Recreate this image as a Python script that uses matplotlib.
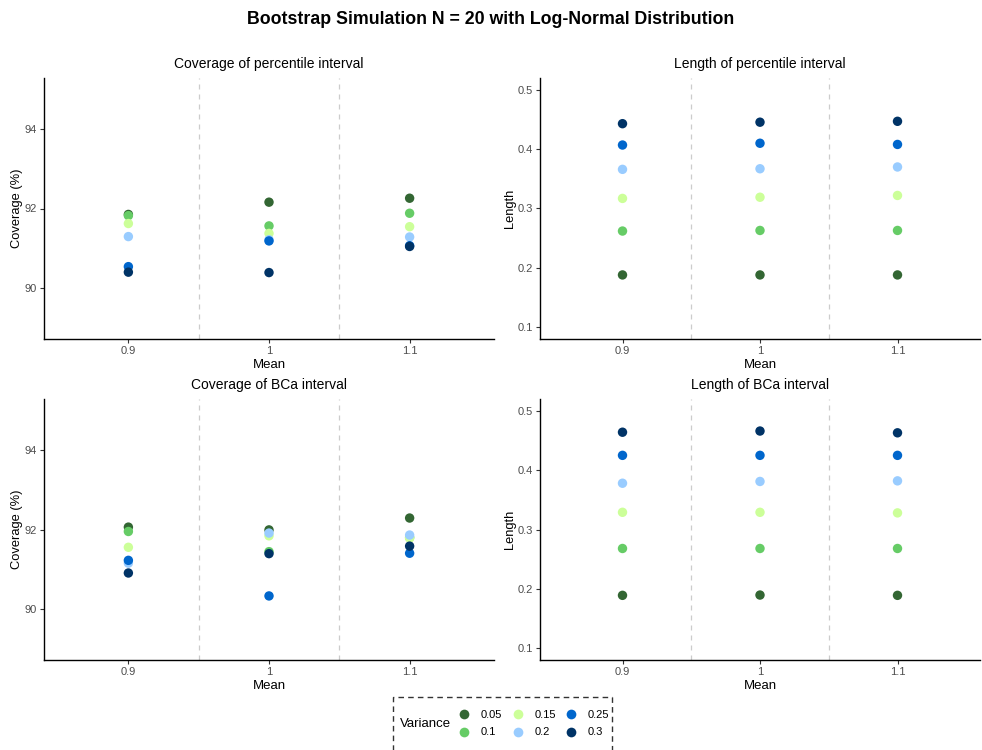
import numpy as np
import matplotlib
matplotlib.use("Agg")
import matplotlib.pyplot as plt
from matplotlib.patches import Rectangle
from matplotlib.lines import Line2D

plt.rcParams['font.family'] = ['Liberation Sans', 'DejaVu Sans']

# ==========================================================
# Data
# ==========================================================
means = ["0.9", "1", "1.1"]
variances = ["0.05", "0.1", "0.15", "0.2", "0.25", "0.3"]
colors = ["#336633", "#66CC66", "#CCFF99", "#99CCFF", "#0066CC", "#003366"]

# rows: variance, columns: mean
cov_percentile = [
    [91.85, 92.16, 92.26],
    [91.82, 91.56, 91.88],
    [91.62, 91.37, 91.54],
    [91.29, 91.21, 91.28],
    [90.53, 91.18, 91.06],
    [90.39, 90.38, 91.04],
]
len_percentile = [
    [0.188, 0.188, 0.188],
    [0.262, 0.263, 0.263],
    [0.317, 0.319, 0.322],
    [0.366, 0.367, 0.370],
    [0.407, 0.410, 0.408],
    [0.443, 0.4455, 0.447],
]
cov_bca = [
    [92.06, 91.99, 92.29],
    [91.95, 91.44, 91.80],
    [91.55, 91.84, 91.78],
    [91.15, 91.91, 91.86],
    [91.22, 90.32, 91.40],
    [90.90, 91.39, 91.58],
]
len_bca = [
    [0.189, 0.1895, 0.189],
    [0.268, 0.268, 0.268],
    [0.329, 0.329, 0.328],
    [0.378, 0.381, 0.382],
    [0.425, 0.425, 0.425],
    [0.464, 0.466, 0.463],
]

panels = [
    ("Coverage of percentile interval", "Coverage (%)", cov_percentile, (89, 95), [90, 92, 94]),
    ("Length of percentile interval", "Length", len_percentile, (0.1, 0.5), [0.1, 0.2, 0.3, 0.4, 0.5]),
    ("Coverage of BCa interval", "Coverage (%)", cov_bca, (89, 95), [90, 92, 94]),
    ("Length of BCa interval", "Length", len_bca, (0.1, 0.5), [0.1, 0.2, 0.3, 0.4, 0.5]),
]

# ==========================================================
# Figure
# ==========================================================
fig = plt.figure(figsize=(9.82, 7.5), dpi=100)

boxes = [
    [44 / 982, 1 - 339 / 750, 450 / 982, 261 / 750],
    [540 / 982, 1 - 339 / 750, 440 / 982, 261 / 750],
    [44 / 982, 1 - 660 / 750, 450 / 982, 261 / 750],
    [540 / 982, 1 - 660 / 750, 440 / 982, 261 / 750],
]

x = np.arange(1, len(means) + 1)

for box, (title, ylabel, values, lim, ticks) in zip(boxes, panels):
    ax = fig.add_axes(box)
    for i, var in enumerate(variances):
        ax.scatter(x, values[i], s=46, color=colors[i], edgecolors="none", zorder=3 + i)
    for b in [1.5, 2.5]:
        ax.axvline(b, color="#CCCCCC", linestyle=(0, (4, 4)), linewidth=0.9, zorder=1)

    pad = (lim[1] - lim[0]) * 0.05
    ax.set_ylim(lim[0] - pad, lim[1] + pad)
    ax.set_xlim(0.4, 3.6)
    ax.set_yticks(ticks)
    ax.set_yticklabels([f"{t:g}" for t in ticks])
    ax.set_xticks(x)
    ax.set_xticklabels(means)

    ax.spines["top"].set_visible(False)
    ax.spines["right"].set_visible(False)
    ax.spines["left"].set_linewidth(1.0)
    ax.spines["bottom"].set_linewidth(1.0)
    ax.tick_params(axis="both", labelsize=8, labelcolor="#4D4D4D", length=3,
                   width=0.8, color="#333333", pad=2)

    ax.set_title(title, fontsize=10, pad=7)
    ax.set_xlabel("Mean", fontsize=9.5, labelpad=2)
    ax.set_ylabel(ylabel, fontsize=9.3, labelpad=1)

fig.suptitle("Bootstrap Simulation N = 20 with Log-Normal Distribution",
             fontsize=12.8, fontweight="bold", x=0.5, y=0.985)

# ==========================================================
# Legend at the bottom
# ==========================================================
handles = [Line2D([], [], marker="o", linestyle="none", markersize=7,
                  markerfacecolor=c, markeredgecolor="none") for c in colors]
fig.legend(handles, variances, ncol=3, frameon=False, fontsize=8,
           loc="center", bbox_to_anchor=(534 / 982, 1 - 723.5 / 750),
           handletextpad=1.0, columnspacing=0.9, labelspacing=0.7,
           handlelength=1.0, borderpad=0.0)
fig.text(400 / 982, 1 - 724 / 750, "Variance", fontsize=9.5, va="center", ha="left")
fig.patches.append(Rectangle((393 / 982, -0.01), 219 / 982, 0.01 + 53 / 750,
                             transform=fig.transFigure, fill=False,
                             edgecolor="#333333", linestyle=(0, (4, 3)), linewidth=1.0))

fig.savefig("out.png", dpi=100)
